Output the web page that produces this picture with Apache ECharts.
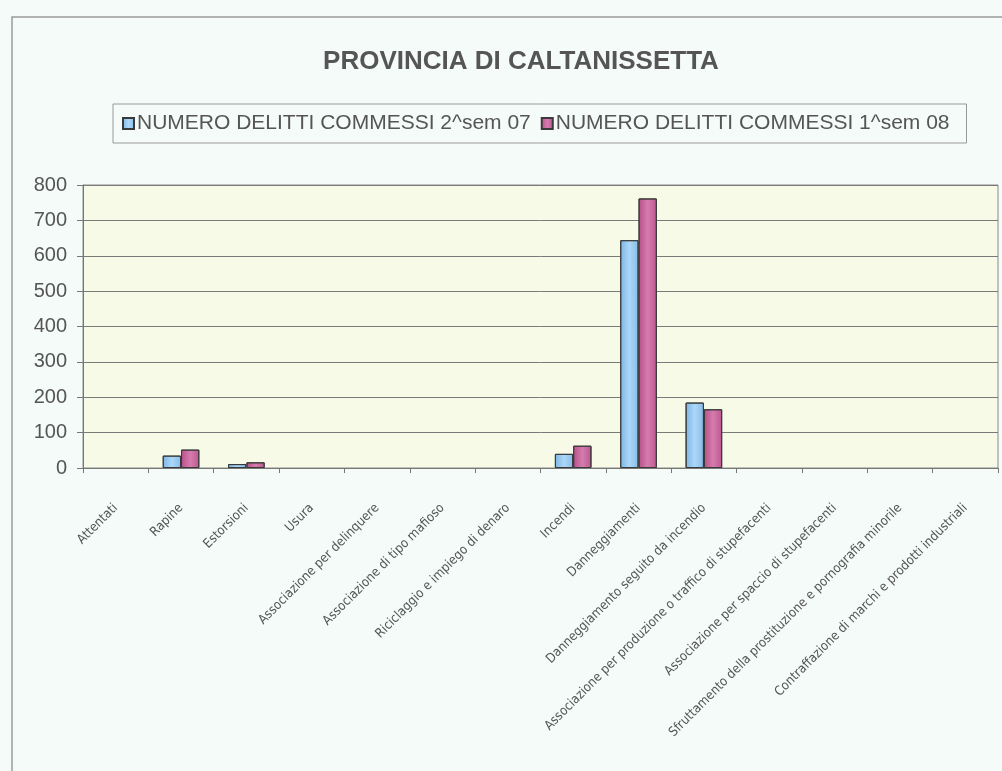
<!DOCTYPE html>
<html>
<head>
<meta charset="utf-8">
<script src="https://cdn.jsdelivr.net/npm/echarts@6/dist/echarts.min.js"></script>
<style>
  html, body { margin: 0; padding: 0; background: #f4fbf8; }
  #main { width: 1002px; height: 771px; }
</style>
</head>
<body>
<div id="main"></div>
<script>
  // categorie dei delitti
  var categorie = [
    'Attentati',
    'Rapine',
    'Estorsioni',
    'Usura',
    'Associazione per delinquere',
    'Associazione di tipo mafioso',
    'Riciclaggio e impiego di denaro',
    'Incendi',
    'Danneggiamenti',
    'Danneggiamento seguito da incendio',
    'Associazione per produzione o traffico di stupefacenti',
    'Associazione per spaccio di stupefacenti',
    'Sfruttamento della prostituzione e pornografia minorile',
    'Contraffazione di marchi e prodotti industriali'
  ];
  var nomiSerie = ['NUMERO DELITTI COMMESSI 2^sem 07', 'NUMERO DELITTI COMMESSI 1^sem 08'];
  var sem2_07 = [0, 35, 11, 0, 0, 0, 0, 40, 644, 185, 0, 0, 0, 0];
  var sem1_08 = [0, 52, 16, 0, 0, 0, 0, 63, 762, 166, 0, 0, 0, 0];

  var chartDom = document.getElementById('main');
  var myChart = echarts.init(chartDom);

  var blu = new echarts.graphic.LinearGradient(0, 0, 1, 0, [
    { offset: 0, color: '#7cb5e6' },
    { offset: 0.5, color: '#acd7f7' },
    { offset: 1, color: '#86bcea' }
  ]);
  var rosa = new echarts.graphic.LinearGradient(0, 0, 1, 0, [
    { offset: 0, color: '#b84f8b' },
    { offset: 0.5, color: '#d57cad' },
    { offset: 1, color: '#bd5790' }
  ]);

  // le barre a zero non mostrano il bordo
  function barre(valori) {
    return valori.map(function (v) {
      return v === 0 ? { value: v, itemStyle: { borderWidth: 0 } } : v;
    });
  }

  var option = {
    backgroundColor: '#f4fbf8',
    graphic: [
      {
        type: 'rect',
        shape: { x: 12, y: 17, width: 1200, height: 900 },
        style: { fill: 'none', stroke: '#9a9a9a', lineWidth: 1.5 },
        silent: true
      }
    ],
    title: {
      text: 'PROVINCIA DI CALTANISSETTA',
      left: 516,
      top: 44,
      textAlign: 'center',
      textStyle: {
        fontFamily: 'Liberation Sans',
        fontSize: 26,
        fontWeight: 'bold',
        color: '#555'
      }
    },
    legend: {
      data: nomiSerie,
      left: 113,
      top: 104,
      orient: 'horizontal',
      icon: 'rect',
      itemWidth: 11,
      itemHeight: 11,
      itemGap: 10,
      padding: [9, 17, 9, 9],
      borderColor: '#999',
      borderWidth: 1,
      textStyle: {
        fontFamily: 'Liberation Sans',
        fontSize: 21,
        color: '#555',
        padding: [0, 0, 0, -2]
      }
    },
    grid: {
      left: 83,
      right: 4,
      top: 185,
      bottom: 303,
      show: true,
      backgroundColor: '#f6fae6',
      borderColor: '#8a8a8a',
      borderWidth: 1,
      containLabel: false
    },
    xAxis: [
      {
        type: 'category',
        data: categorie,
        axisLine: { lineStyle: { color: '#777' } },
        axisTick: { show: true, length: 5, lineStyle: { color: '#777' } },
        axisLabel: {
          interval: 0,
          rotate: 45,
          margin: 38,
          fontFamily: 'DejaVu Sans Condensed',
          fontSize: 13,
          color: '#555'
        }
      }
    ],
    yAxis: [
      {
        type: 'value',
        min: 0,
        max: 800,
        interval: 100,
        axisLine: { show: true, lineStyle: { color: '#777' } },
        axisTick: { show: true, length: 6, lineStyle: { color: '#777' } },
        axisLabel: {
          margin: 16,
          fontFamily: 'Liberation Sans',
          fontSize: 20,
          color: '#555'
        },
        splitLine: {
          lineStyle: { color: '#7a7a7a', width: 1 }
        }
      }
    ],
    series: [
      {
        name: nomiSerie[0],
        type: 'bar',
        data: barre(sem2_07),
        barGap: '0%',
        barCategoryGap: '44%',
        itemStyle: { color: blu, borderColor: '#3a3a3a', borderWidth: 1 }
      },
      {
        name: nomiSerie[1],
        type: 'bar',
        data: barre(sem1_08),
        itemStyle: { color: rosa, borderColor: '#3a3a3a', borderWidth: 1 }
      }
    ]
  };
  option && myChart.setOption(option);
</script>
</body>
</html>
